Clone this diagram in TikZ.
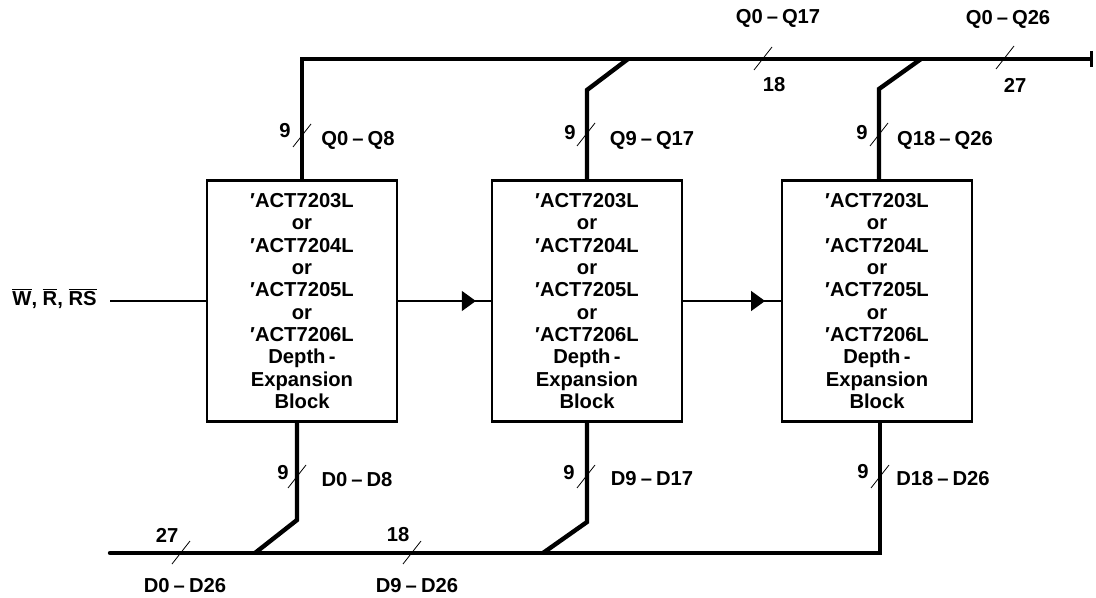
\documentclass[tikz,border=0pt]{standalone}
\usepackage{fontspec}
\setmainfont{Liberation Sans}
\usetikzlibrary{arrows.meta,decorations.markings}
\tikzset{
  blk/.style={draw,line width=1.4pt,minimum width=95pt,minimum height=120.5pt,
    align=center,inner sep=0pt,font=\fontsize{10.1}{11.15}\selectfont\bfseries},
  bus/.style={line width=2.2pt},
  wire/.style={line width=0.6pt},
  busmark/.style={line width=0.4pt},
  lbl/.style={inner sep=0pt,font=\fontsize{10.1}{11.15}\selectfont\bfseries},
  midarrow/.style={postaction={decorate},decoration={markings,
    mark=at position #1 with {\arrow{Triangle[length=7pt,width=10pt]}}}}
}
\newcommand{\rng}[2]{#1\hspace{0.2em}–\hspace{0.2em}#2}
\newcommand{\blocktext}{′ACT7203L\\or\\′ACT7204L\\or\\′ACT7205L\\or\\′ACT7206L\\Depth\,-\\Expansion\\Block}
\begin{document}
\begin{tikzpicture}[x=0.5pt,y=-0.5pt]
    \useasboundingbox (0,0) rectangle (1096,598);
    % the three blocks
    \node[blk] (b1) at (302,301) {\blocktext};
    \node[blk] (b2) at (587,301) {\blocktext};
    \node[blk] (b3) at (877,301) {\blocktext};
    % control line
    \node[lbl,anchor=base east] (ctl) at (97,306)
      {$\overline{\hbox{W}}$, $\overline{\hbox{R}}$, $\overline{\hbox{RS}}$};
    \coordinate (ctlend) at (110,301);
    \draw[wire] (ctlend) -- (b1.west);
    \draw[wire,midarrow=0.84] (b1.east) -- (b2.west);
    \draw[wire,midarrow=0.84] (b2.east) -- (b3.west);
    % output bus
    \coordinate (qbus) at (0,59);
    \coordinate (qend) at (1093,59);
    \coordinate (qj2) at (628,59);
    \coordinate (qj3) at (921,59);
    \draw[bus,-{Bar[width=8pt,line width=1.6pt]}] (b1.north) -- (b1.north |- qbus) -- (qend);
    \draw[bus] (b2.north) -- (b2.north |- 0,90) -- (qj2);
    \draw[bus] ([xshift=1pt]b3.north) -- ([xshift=1pt]b3.north |- 0,89) -- (qj3);
    % input bus
    \coordinate (dbus) at (0,553);
    \coordinate (dstart) at (110,553);
    \coordinate (dj1) at (255,553);
    \coordinate (dj2) at (543,553);
    \draw[bus,line cap=round] (dstart) -- ([xshift=1.5pt]b3.south |- dbus) -- ([xshift=1.5pt]b3.south);
    \draw[bus] ([xshift=-2.5pt]b1.south) -- ([xshift=-2.5pt]b1.south |- 0,520) -- (dj1);
    \draw[bus] (b2.south) -- (b2.south |- 0,522) -- (dj2);
    % bus width marks
    \foreach \p in {(302,136),(586,135),(879,135),(763,59),(1005,58),
                    (297,477),(586,477),(880,477),(181,553),(412,553)}
      \draw[busmark] \p ++(-9,11) -- ++(18,-23);
    % labels
    \node[lbl] (w1) at (285,131) {9};
    \node[lbl] (q1) at (358,140) {\rng{Q0}{Q8}};
    \node[lbl] (w2) at (570,133) {9};
    \node[lbl] (q2) at (652,140) {\rng{Q9}{Q17}};
    \node[lbl] (w3) at (862,133) {9};
    \node[lbl] (q3) at (945,140) {\rng{Q18}{Q26}};
    \node[lbl] (q12) at (778,18) {\rng{Q0}{Q17}};
    \node[lbl] (w12) at (774,85) {18};
    \node[lbl] (q123) at (1008,19) {\rng{Q0}{Q26}};
    \node[lbl] (w123) at (1015,85) {27};
    \node[lbl] (v1) at (283,473) {9};
    \node[lbl] (d1) at (357,480) {\rng{D0}{D8}};
    \node[lbl] (v2) at (569,473) {9};
    \node[lbl] (d2) at (652,479) {\rng{D9}{D17}};
    \node[lbl] (v3) at (863,472) {9};
    \node[lbl] (d3) at (943,479) {\rng{D18}{D26}};
    \node[lbl] (v123) at (167,535) {27};
    \node[lbl] (d123) at (185,586) {\rng{D0}{D26}};
    \node[lbl] (v23) at (398,535) {18};
    \node[lbl] (d23) at (417,586) {\rng{D9}{D26}};
\end{tikzpicture}
\end{document}
